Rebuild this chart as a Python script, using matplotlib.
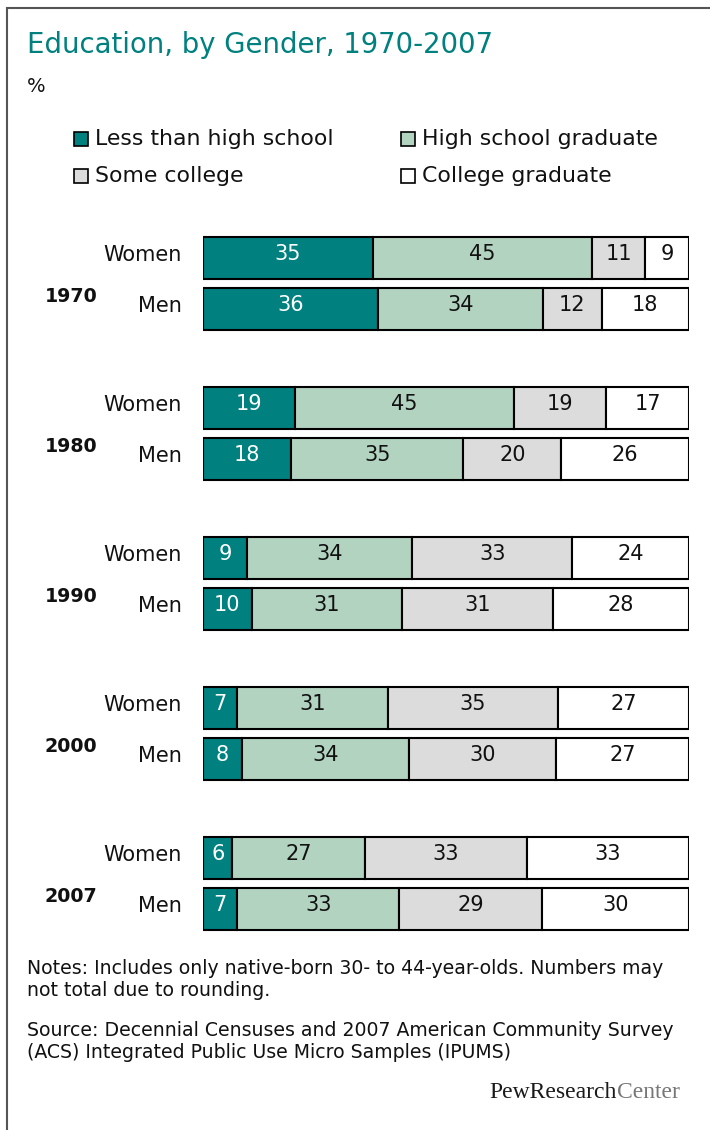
import matplotlib.pyplot as plt
from matplotlib.patches import Rectangle

# data
years = ["1970", "1980", "1990", "2000", "2007"]
genders = ["Women", "Men"]
categories = ["Less than high school", "High school graduate", "Some college", "College graduate"]
less_hs = [[35, 36], [19, 18], [9, 10], [7, 8], [6, 7]]
hs_grad = [[45, 34], [45, 35], [34, 31], [31, 34], [27, 33]]
some_col = [[11, 12], [19, 20], [33, 31], [35, 30], [33, 29]]
col_grad = [[9, 18], [17, 26], [24, 28], [27, 27], [33, 30]]

colors = ["#00807f", "#b2d3c0", "#dcdcdc", "#ffffff"]
txt_colors = ["white", "#111111", "#111111", "#111111"]

plt.rcParams['font.family'] = "DejaVu Sans"

W, H = 710, 1130
fig = plt.figure(figsize=(W / 100, H / 100), dpi=100)


def fx(px):
    return px / W


def fy(py):
    return 1 - py / H


# frame
fig.patches.append(Rectangle((fx(7), fy(1140)), fx(720), (1140 - 8) / H, transform=fig.transFigure,
                             fill=False, edgecolor="#555555", lw=1.5))

fig.text(fx(27), fy(45), "Education, by Gender, 1970-2007", color="#00807f",
         fontsize=19.8, va="center", ha="left")
fig.text(fx(27), fy(87), "%", fontsize=14, va="center", ha="left", color="#111111")

# legend
leg_pos = [(74, 139), (401, 139), (74, 176), (401, 176)]
for (lx, ly), cat, c in zip(leg_pos, categories, colors):
    fig.patches.append(Rectangle((fx(lx), fy(ly + 7)), 14 / W, 14 / H, transform=fig.transFigure,
                                 facecolor=c, edgecolor="black", lw=1.2))
    fig.text(fx(lx + 21), fy(ly), cat, fontsize=15.8, va="center", ha="left", color="#111111")

# bars
ax = fig.add_axes([fx(203), fy(950), (689 - 203) / W, (950 - 220) / H])
ax.set_xlim(0, 100)
ax.set_ylim(950, 220)
ax.axis("off")

bar_h = 42
for i, yr in enumerate(years):
    for j, g in enumerate(genders):
        yc = 258 + 150 * i + 51 * j
        vals = [less_hs[i][j], hs_grad[i][j], some_col[i][j], col_grad[i][j]]
        tot = sum(vals)
        left = 0
        for k, v in enumerate(vals):
            w = v * 100 / tot
            ax.barh(yc, w, left=left, height=bar_h, color=colors[k], edgecolor="black", lw=1.5)
            ax.text(left + w / 2, yc - 4, str(v), ha="center", va="center",
                    fontsize=15, color=txt_colors[k])
            left += w
        ax.text(-4.3, yc - 3, g, ha="right", va="center", fontsize=15, color="#111111")
    fig.text(fx(45), fy(296 + 150 * i), yr, fontsize=13.7, fontweight="bold",
             va="center", ha="left", color="#111111")

foot_lines = ["Notes: Includes only native-born 30- to 44-year-olds. Numbers may",
              "not total due to rounding.",
              "Source: Decennial Censuses and 2007 American Community Survey",
              "(ACS) Integrated Public Use Micro Samples (IPUMS)"]
for line, ly in zip(foot_lines, [968, 991, 1030, 1053]):
    fig.text(fx(27), fy(ly), line, fontsize=13.6, va="center", ha="left", color="#111111")

# logo
fig.text(fx(617), fy(1093), "PewResearch", fontsize=17, family="Liberation Serif",
         va="center", ha="right", color="#1a1a1a")
fig.text(fx(617), fy(1093), "Center", fontsize=17, family="Liberation Serif",
         va="center", ha="left", color="#777777")

fig.savefig("out.png", dpi=100)
